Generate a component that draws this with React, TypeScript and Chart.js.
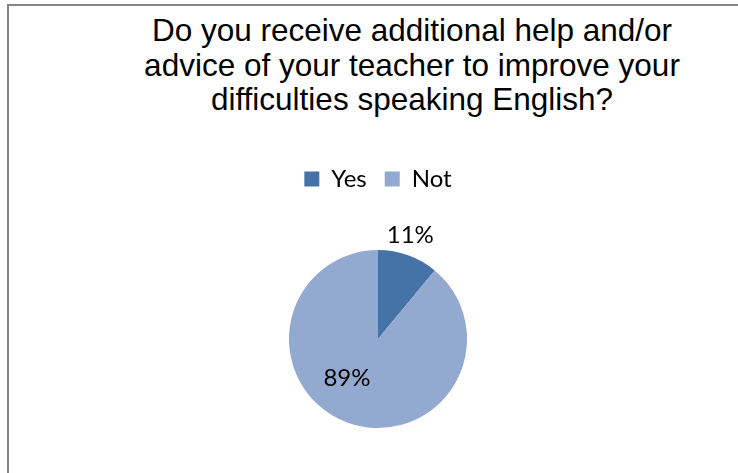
import React, { useEffect, useRef } from "react";
import { Chart, registerables } from "chart.js";

Chart.register(...registerables);

const titleLines = [
  "Do you receive additional help and/or",
  "advice of your teacher to improve your",
  "difficulties speaking English?",
];
const categories = ["Yes", "Not"];
const values = [11, 89];
const sliceColors = ["#4573A8", "#93A9CF"];
// label placement relative to each arc: radius factor and angle shift (deg)
const labelRadius = [1.22, 0.56];
const labelShift = [-2.5, 18.7];

const pctLabels = {
  id: "pctLabels",
  afterDatasetsDraw(chart: any) {
    const meta = chart.getDatasetMeta(0);
    const ctx = chart.ctx;
    const total = values.reduce((a, b) => a + b, 0);
    ctx.save();
    ctx.font = "24px Lato";
    ctx.fillStyle = "#000";
    ctx.textAlign = "center";
    ctx.textBaseline = "middle";
    meta.data.forEach((arc: any, i: number) => {
      const mid = (arc.startAngle + arc.endAngle) / 2 + (labelShift[i] * Math.PI) / 180;
      const r = arc.outerRadius * labelRadius[i];
      const x = arc.x + Math.cos(mid) * r;
      const y = arc.y + Math.sin(mid) * r;
      ctx.fillText(Math.round((values[i] / total) * 100) + "%", x, y);
    });
    ctx.restore();
  },
};

export default function App() {
  const ref = useRef<HTMLCanvasElement>(null);
  useEffect(() => {
    if (!ref.current) return;
    const chart = new Chart(ref.current, {
      type: "pie",
      data: {
        labels: categories,
        datasets: [
          {
            data: values,
            backgroundColor: sliceColors,
            borderWidth: 0,
            radius: 89,
          },
        ],
      },
      options: {
        animation: false,
        responsive: false,
        maintainAspectRatio: false,
        layout: { padding: 0 },
        plugins: {
          title: { display: false },
          tooltip: { enabled: false },
          legend: {
            display: true,
            position: "top",
            labels: {
              font: { family: "Lato", size: 24 },
              color: "#000",
              boxWidth: 15,
              boxHeight: 15,
              padding: 18,
            },
          },
        },
      },
      plugins: [pctLabels],
    });
    return () => chart.destroy();
  }, []);

  return (
    <div
      style={{
        position: "fixed",
        left: 0,
        top: 0,
        width: 738,
        height: 473,
        overflow: "hidden",
        background: "#fff",
      }}
    >
      <div
        style={{
          position: "absolute",
          left: 7,
          top: 4,
          width: 900,
          height: 700,
          borderLeft: "2px solid #868686",
          borderTop: "2px solid #868686",
        }}
      />
      <div
        style={{
          position: "absolute",
          left: 88,
          width: 648,
          top: 13,
          textAlign: "center",
          fontFamily: "'Liberation Sans', Arial, sans-serif",
          fontSize: 31.5,
          lineHeight: "34.5px",
          color: "#000",
        }}
      >
        {titleLines.map((l, i) => (
          <div key={i}>{l}</div>
        ))}
      </div>
      <canvas
        ref={ref}
        width={220}
        height={328}
        style={{ position: "absolute", left: 268, top: 149, width: 220, height: 328 }}
      />
    </div>
  );
}
